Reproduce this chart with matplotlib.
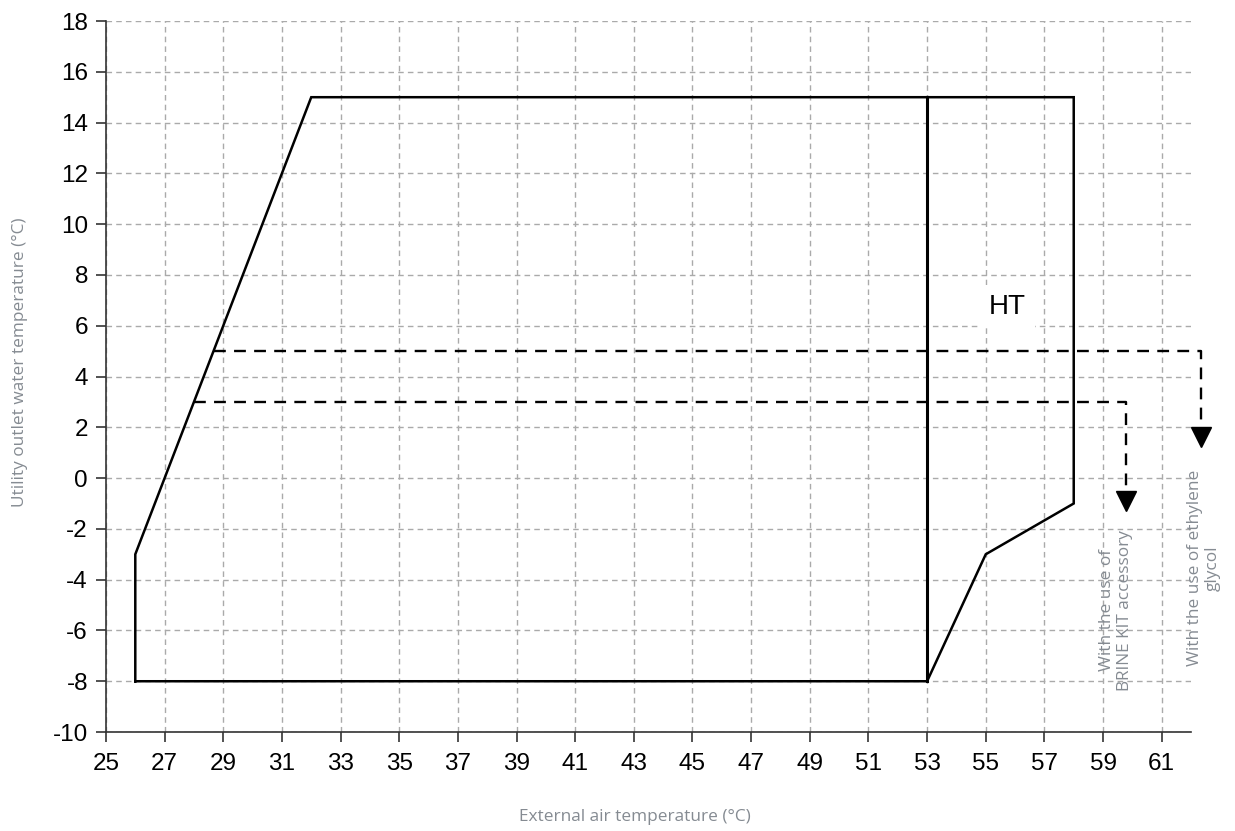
import matplotlib.pyplot as plt

plt.rcParams["axes.unicode_minus"] = False

# operating envelope (external air temp vs outlet water temp)
envelope_x = [26, 26, 32, 58, 58, 55, 53, 26]
envelope_y = [-8, -3, 15, 15, -1, -3, -8, -8]
split_x = [53, 53]
split_y = [-8, 15]

# dashed extension limits
brine_x = [28, 59.77, 59.77]
brine_y = [3, 3, -0.6]
brine_head = (59.77, -0.92)
glycol_x = [28.67, 62.33, 62.33]
glycol_y = [5, 5, 2]
glycol_head = (62.33, 1.62)

x_ticks = list(range(25, 62, 2))
y_ticks = list(range(-10, 19, 2))

label_color = "#858b92"

fig = plt.figure(figsize=(12.35, 8.31), dpi=100)
ax = fig.add_axes([0.0858, 0.1191, 0.9644 - 0.0858, 0.9747 - 0.1191])

ax.set_xlim(25, 62)
ax.set_ylim(-10, 18)
ax.set_xticks(x_ticks)
ax.set_yticks(y_ticks)
ax.tick_params(labelsize=17.5, length=7, width=1.2, color="#333333", pad=8)
ax.tick_params(axis="y", pad=6)
for lbl in ax.get_xticklabels() + ax.get_yticklabels():
    lbl.set_family("Liberation Sans")
ax.grid(True, color="#aaaaaa", linestyle=(0, (4, 3)), linewidth=1.0)
ax.set_axisbelow(True)
for side in ("top", "right"):
    ax.spines[side].set_visible(False)
for side in ("left", "bottom"):
    ax.spines[side].set_color("#333333")
    ax.spines[side].set_linewidth(1.2)

ax.plot(envelope_x, envelope_y, color="black", lw=1.8, solid_joinstyle="miter")
ax.plot(split_x, split_y, color="black", lw=2.2)

for xs, ys, head in ((brine_x, brine_y, brine_head), (glycol_x, glycol_y, glycol_head)):
    ax.plot(xs, ys, color="black", lw=1.7, linestyle=(0, (5, 3.5)), clip_on=False)
    ax.plot([head[0]], [head[1]], marker="v", ms=15, color="black", clip_on=False)

ax.text(55.75, 6.75, "HT", fontsize=20, family="Liberation Sans", ha="center", va="center",
        bbox=dict(facecolor="white", edgecolor="none", pad=6))

ax.text(59.45, -5.2, "With the use of\nBRINE KIT accessory", rotation=90, ha="center",
        va="center", multialignment="center", fontsize=12.4, family="Open Sans",
        color=label_color, linespacing=1.15, clip_on=False)
ax.text(62.45, -3.55, "With the use of ethylene\nglycol", rotation=90, ha="center",
        va="center", multialignment="center", fontsize=12.4, family="Open Sans",
        color=label_color, linespacing=1.15, clip_on=False)

fig.text(635 / 1235, 1 - 817 / 831, "External air temperature (°C)", ha="center", va="center",
         fontsize=12.4, family="Open Sans", color=label_color)
fig.text(20 / 1235, 1 - 362 / 831, "Utility outlet water temperature (°C)", ha="center",
         va="center", rotation=90, fontsize=12.4, family="Open Sans", color=label_color)

fig.savefig("out.png", dpi=100)
